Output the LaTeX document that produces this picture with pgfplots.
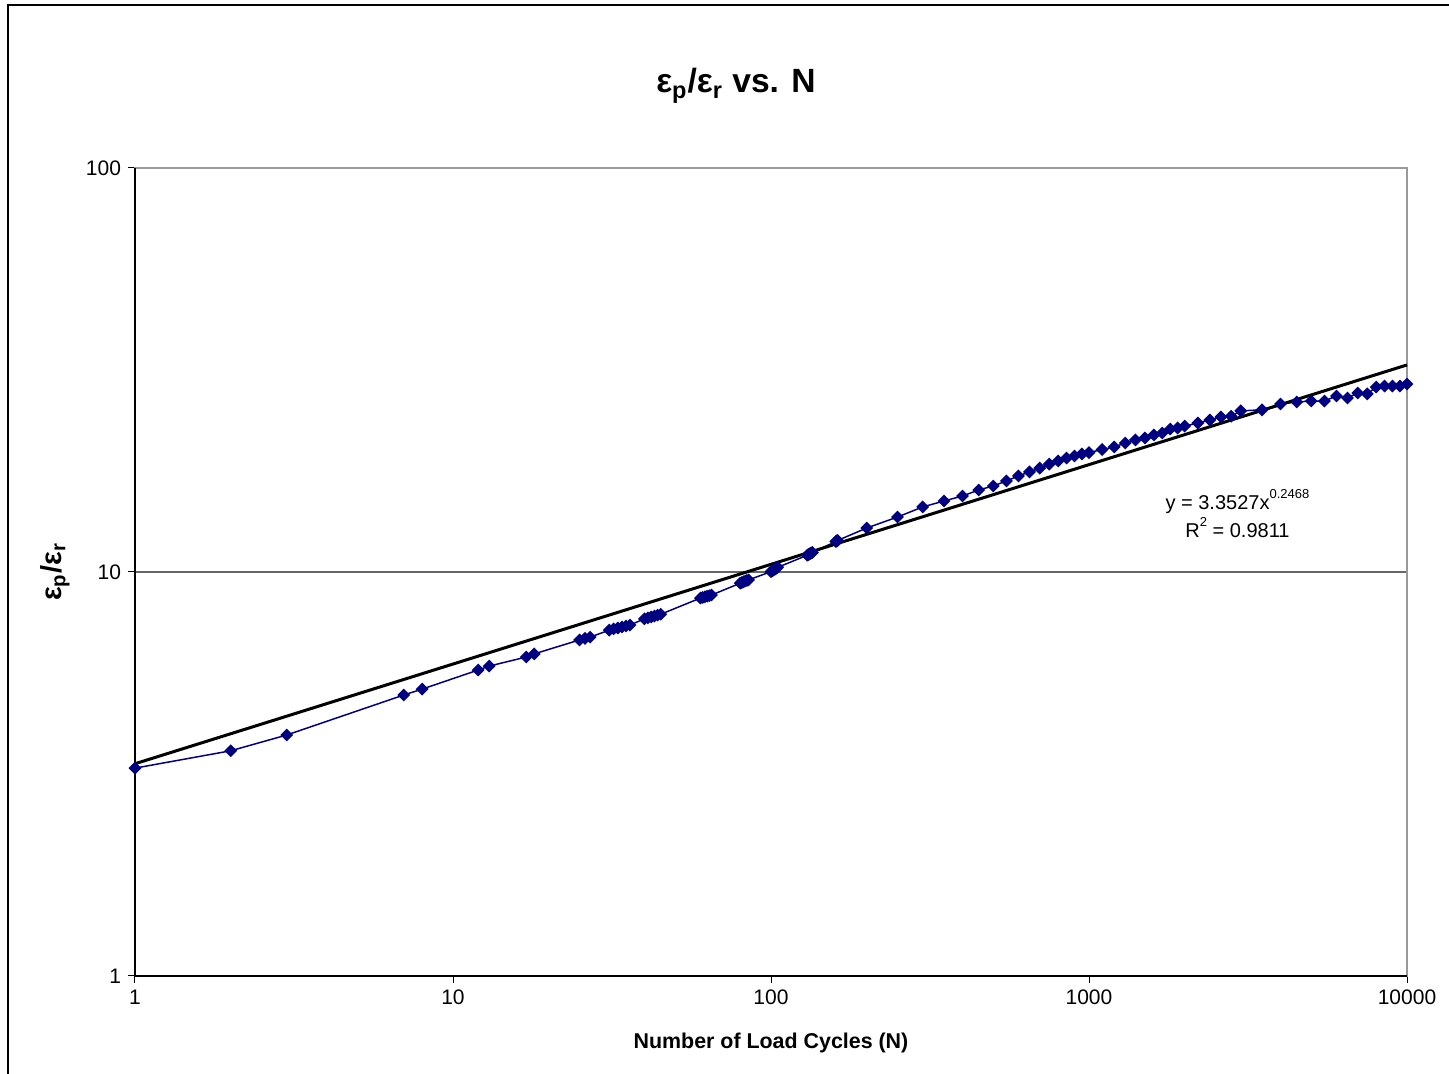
\documentclass[border=0pt]{standalone}
\usepackage{fontspec}
\setmainfont{Liberation Sans}
\usepackage{pgfplots}
\pgfplotsset{compat=1.18}
\definecolor{navyblue}{RGB}{0,0,128}

\pgfplotstableread{
N ratio
1 3.27
2 3.61
3 3.95
7 4.96
8 5.13
12 5.72
13 5.85
17 6.16
18 6.27
25 6.79
26 6.85
27 6.90
31 7.18
32 7.23
33 7.27
34 7.31
35 7.35
36 7.39
40 7.66
41 7.70
42 7.74
43 7.78
44 7.82
45 7.86
60 8.62
61 8.65
62 8.68
63 8.71
64 8.74
65 8.77
80 9.38
81 9.42
82 9.46
83 9.50
84 9.53
85 9.56
100 10.02
101 10.07
102 10.12
103 10.17
104 10.22
105 10.27
130 11.00
131 11.04
132 11.08
133 11.12
134 11.15
135 11.18
160 11.90
161 11.94
162 11.97
200 12.85
250 13.68
300 14.49
350 14.99
400 15.42
450 15.96
500 16.33
550 16.80
600 17.29
650 17.69
700 18.08
750 18.50
800 18.83
850 19.15
900 19.37
950 19.60
1000 19.75
1100 20.10
1200 20.39
1300 20.86
1400 21.23
1500 21.47
1600 21.84
1700 22.08
1800 22.59
1900 22.72
2000 22.97
2200 23.38
2400 23.78
2600 24.20
2800 24.30
3000 25.05
3500 25.20
4000 26.05
4500 26.35
5000 26.50
5500 26.50
6000 27.27
6500 26.95
7000 27.74
7500 27.60
8000 28.70
8500 28.86
9000 28.86
9500 28.86
10000 29.20
}\ratiodata

% power trendline y = 3.3527 x^0.2468, end points only
\pgfplotstableread{
N fit
1 3.3527
10000 32.55
}\fitdata

\begin{document}
\begin{tikzpicture}
  % page = 1449 x 1074 px at 0.5pt per px, plot area lower left at origin
  \useasboundingbox (-67.5pt,-49pt) rectangle (657pt,488pt);
  \draw[black, line width=0.6pt] (-63.5pt,-80pt) -- (-63.5pt,485.5pt) -- (700pt,485.5pt);
  \begin{axis}[
    scale only axis,
    width=636pt, height=404pt,
    xmode=log, ymode=log,
    xmin=1, xmax=10000, ymin=1, ymax=100,
    xtick={1,10,100,1000,10000},
    xticklabels={1,10,100,1000,10000},
    ytick={1,10,100},
    yticklabels={1,10,100},
    xminorticks=false, yminorticks=false,
    tick pos=left, tick align=outside,
    major tick length=3.5pt,
    tick style={black, line width=0.5pt},
    axis line style={gray!80, line width=0.6pt},
    ymajorgrids, grid style={gray!80!black, line width=0.6pt},
    tick label style={font=\fontsize{10.5}{12}\selectfont},
    title={\textbf{ε\textsubscript{p}/ε\textsubscript{r} vs. N}},
    title style={font=\fontsize{16.8}{19}\selectfont, at={(axis description cs:0.4725,1.087)}, anchor=center},
    xlabel={\textbf{Number of Load Cycles (N)}},
    xlabel style={font=\fontsize{10.7}{12}\selectfont, at={(axis description cs:0.5,-0.083)}, anchor=center},
    ylabel={\textbf{ε\textsubscript{p}/ε\textsubscript{r}}},
    ylabel style={font=\fontsize{14.5}{16}\selectfont, at={(axis description cs:-0.063,0.5)}, anchor=center},
    clip=false,
  ]
    \addplot[navyblue, line width=0.75pt, mark=square*,
      mark options={rotate=45, fill=navyblue, draw=navyblue}, mark size=1.9pt]
      table[x=N, y=ratio] {\ratiodata};
    \addplot[black, line width=1.5pt] table[x=N, y=fit] {\fitdata};
    \node[align=center, font=\fontsize{10}{14}\selectfont] at (axis cs:2930,13.92)
      {y = 3.3527x\raisebox{0.55em}{\fontsize{6.5}{7}\selectfont 0.2468}\\R\raisebox{0.55em}{\fontsize{6.5}{7}\selectfont 2} = 0.9811};
    \draw[black, line width=0.6pt] (rel axis cs:0,1) -- (rel axis cs:0,0) -- (rel axis cs:1,0);
  \end{axis}
\end{tikzpicture}
\end{document}
